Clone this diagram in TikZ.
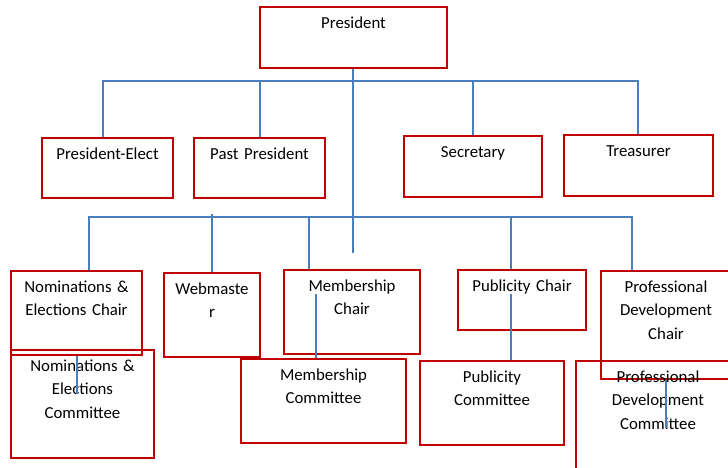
\documentclass[tikz,border=0pt]{standalone}
\usepackage{fontspec}
\setmainfont{Carlito}
\usepackage{tikz}
\usetikzlibrary{calc}
\definecolor{boxred}{RGB}{192,0,0}
\definecolor{linkblue}{RGB}{74,126,187}
\tikzset{orgbox/.style 2 args={rectangle,draw=boxred,line width=2pt,anchor=north west,
    inner sep=0pt,text width=#1,text height=21pt,text depth=#2,align=center,
    font=\fontsize{16.8}{23.5}\selectfont}}

\begin{document}
\begin{tikzpicture}[x=1pt,y=-1pt]
  \tikzstyle{link}=[draw=linkblue,line width=1.8pt]
  \clip (0,0) rectangle (728,467);

  % top row
  \node[orgbox={187pt}{40pt}] (pres)   at (259,6)   {President};
  \node[orgbox={131pt}{39pt}] (pe)     at (41,137)  {President-Elect};
  \node[orgbox={131pt}{39pt}] (past)   at (193,137) {Past President};
  \node[orgbox={138pt}{40pt}] (sec)    at (403,135) {Secretary};
  \node[orgbox={149pt}{40pt}] (treas)  at (563,134) {Treasurer};

  % chairs
  \node[orgbox={131pt}{63pt}] (nec)    at (10,270)  {Nominations \&\\Elections Chair};
  \node[orgbox={96pt}{63pt}]  (web)    at (163,272) {Webmaste\\r};
  \node[orgbox={136pt}{63pt}] (memc)   at (283,269) {Membership\\Chair};
  \node[orgbox={128pt}{39pt}] (pubc)   at (457,269) {Publicity Chair};
  \node[orgbox={130pt}{87pt}] (pdc)    at (600,270) {Professional\\Development\\Chair};

  % committees
  \node[orgbox={143pt}{87pt}] (necom)  at (10,349)  {Nominations \&\\Elections\\Committee};
  \node[orgbox={165pt}{63pt}] (memcom) at (240,358) {Membership\\Committee};
  \node[orgbox={144pt}{63pt}] (pubcom) at (419,360) {Publicity\\Committee};
  \node[orgbox={164pt}{89pt}] (pdcom)  at (575,360) {Professional\\Development\\Committee};

  \coordinate (bus1) at (0,81);
  \coordinate (bus2) at (0,217);
  \coordinate (mid)  at (0,253);

  \draw[link] ([xshift=-4.5pt]pe.north) |- ([xshift=-0.5pt]treas.north |- bus1) -- ([xshift=-0.5pt]treas.north);
  \draw[link] ([xshift=0.5pt]past.north) -- ([xshift=0.5pt]past.north |- bus1);
  \draw[link] (sec.north) -- (sec.north |- bus1);
  \draw[link] ([xshift=-0.5pt]pres.south) -- ([xshift=-0.5pt]pres.south |- mid);

  \draw[link] ([xshift=12.5pt]nec.north) |- ([xshift=-34pt]pdc.north |- bus2) -- ([xshift=-34pt]pdc.north);
  \draw[link] (web.north) -- ++(0,-58);
  \draw[link] ([xshift=-43pt]memc.north) -- ([xshift=-43pt]memc.north |- bus2);
  \draw[link] ([xshift=-11pt]pubc.north) -- ([xshift=-11pt]pubc.north |- bus2);

  \draw[link] ([xshift=0.5pt]nec.south) -- ++(0,38);
  \draw[link] ([xshift=-7.5pt]memcom.north) -- ++(0,-64);
  \draw[link] ([xshift=19pt]pubcom.north) -- ++(0,-66);
  \draw[link] (pdc.south) -- ++(0,48);
\end{tikzpicture}
\end{document}
